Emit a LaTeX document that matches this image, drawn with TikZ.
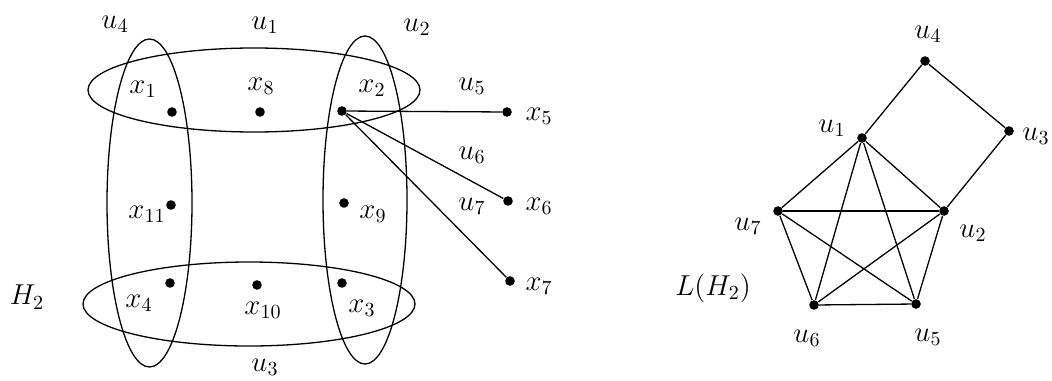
\documentclass[tikz,border=0pt]{standalone}
\begin{document}
\begin{tikzpicture}[x=0.5pt,y=-0.5pt,
  dot/.style={circle,fill=black,inner sep=0pt,minimum size=4.8pt},
  lbl/.style={inner sep=0pt,font=\Large},
  hedge/.style={line width=0.65pt},
  edge/.style={line width=0.65pt}]
\useasboundingbox (0,0) rectangle (1052,380);
\clip (0,0) rectangle (1052,380);
% hyperedges
\draw[hedge] (254,90) ellipse [x radius=166, y radius=42];
\draw[hedge] (249,304) ellipse [x radius=166, y radius=42];
\draw[hedge] (149.5,203) ellipse [x radius=42.5, y radius=164];
\draw[hedge] (365,200) ellipse [x radius=42, y radius=164];
% vertices of H2
\node[dot] (x1) at (172,112) {};
\node[dot] (x8) at (260,112) {};
\node[dot] (x2) at (342,111) {};
\node[dot] (x5) at (507,112) {};
\node[dot] (x11) at (171,205) {};
\node[dot] (x9) at (344,203) {};
\node[dot] (x6) at (508,201) {};
\node[dot] (x4) at (170,283) {};
\node[dot] (x10) at (257,285) {};
\node[dot] (x3) at (342,283) {};
\node[dot] (x7) at (510,281) {};
\draw[edge] (x2) -- (x5);
\draw[edge] (x2) -- (x6);
\draw[edge] (x2) -- (x7);
% labels of H2
\node[lbl] (lu4) at (115,24) {$u_4$};
\node[lbl] (lu1) at (265,25) {$u_1$};
\node[lbl] (lu2) at (417,27) {$u_2$};
\node[lbl] (lu3) at (265,367) {$u_3$};
\node[lbl] (lu5) at (472,86) {$u_5$};
\node[lbl] (lu6) at (472,155) {$u_6$};
\node[lbl] (lu7) at (472,206) {$u_7$};
\node[lbl] (lx1) at (143,89) {$x_1$};
\node[lbl] (lx8) at (261,86) {$x_8$};
\node[lbl] (lx2) at (372,88) {$x_2$};
\node[lbl] (lx5) at (539,116) {$x_5$};
\node[lbl] (lx11) at (147,214) {$x_{11}$};
\node[lbl] (lx9) at (373,214) {$x_9$};
\node[lbl] (lx6) at (539,206) {$x_6$};
\node[lbl] (lx4) at (139,303) {$x_4$};
\node[lbl] (lx10) at (263,310) {$x_{10}$};
\node[lbl] (lx3) at (362,308) {$x_3$};
\node[lbl] (lx7) at (539,286) {$x_7$};
\node[lbl] (lH) at (27,297) {$H_2$};
% line graph L(H2)
\node[dot] (v4) at (925,61) {};
\node[dot] (v3) at (1009,131) {};
\node[dot] (v1) at (862,138) {};
\node[dot] (v7) at (778,211) {};
\node[dot] (v2) at (944,211) {};
\node[dot] (v6) at (814,305) {};
\node[dot] (v5) at (916,304) {};
\draw[edge] (v1) -- (v4) -- (v3) -- (v2);
\draw[edge] (v1) -- (v7);
\draw[edge] (v1) -- (v2);
\draw[edge] (v1) -- (v6);
\draw[edge] (v1) -- (v5);
\draw[edge] (v7) -- (v2);
\draw[edge] (v7) -- (v6);
\draw[edge] (v7) -- (v5);
\draw[edge] (v2) -- (v6);
\draw[edge] (v2) -- (v5);
\draw[edge] (v6) -- (v5);
\node[lbl] (lv4) at (928,34) {$u_4$};
\node[lbl] (lv3) at (1036,136) {$u_3$};
\node[lbl] (lv1) at (832,128) {$u_1$};
\node[lbl] (lv7) at (748,226) {$u_7$};
\node[lbl] (lv2) at (973,233) {$u_2$};
\node[lbl] (lv6) at (807,338) {$u_6$};
\node[lbl] (lv5) at (928,337) {$u_5$};
\node[lbl] (lL) at (713,288) {$L(H_2)$};
\end{tikzpicture}
\end{document}
